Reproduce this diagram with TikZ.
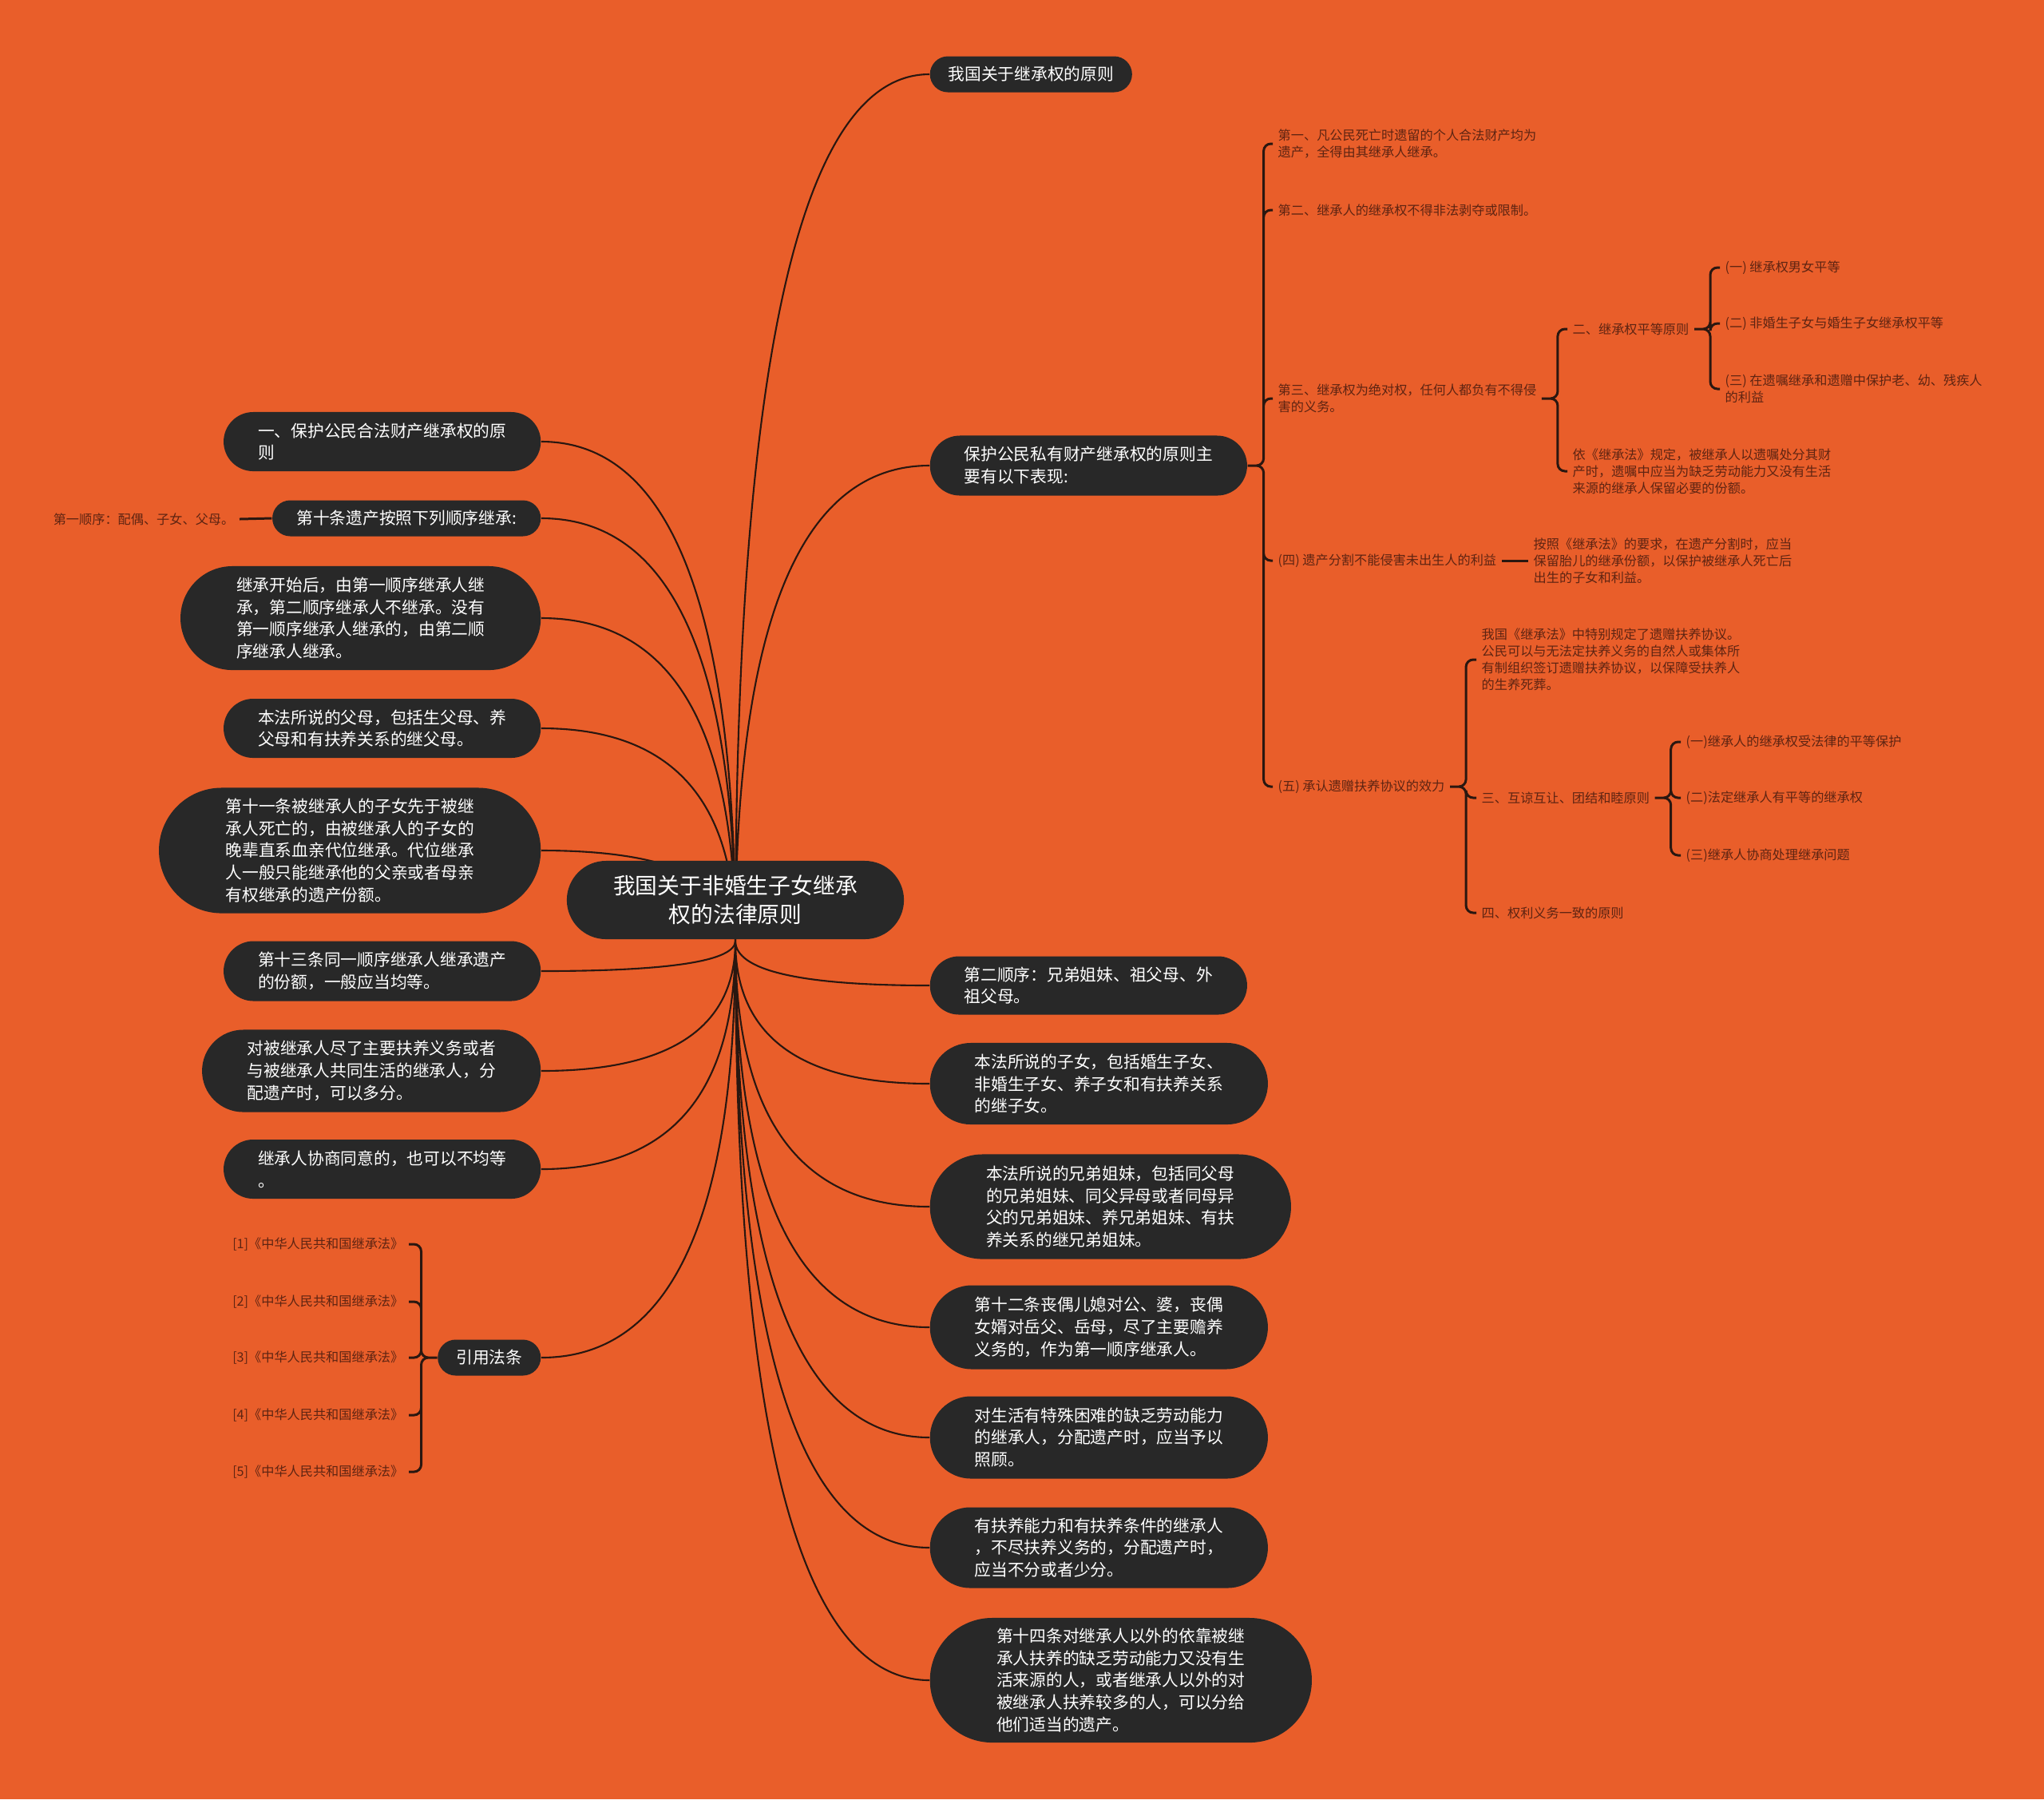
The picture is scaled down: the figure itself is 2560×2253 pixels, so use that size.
\documentclass[tikz,border=0pt]{standalone}
\usepackage{fontspec}
\setmainfont{Noto Sans CJK SC}
\usetikzlibrary{calc,backgrounds,shapes.misc}

\definecolor{bgorange}{HTML}{E95E2A}
\definecolor{boxfill}{HTML}{282828}
\definecolor{leaftext}{HTML}{5E2412}
\definecolor{linecol}{HTML}{2A1710}

\tikzset{
  hubbox/.style={rounded rectangle, fill=boxfill, text=white, align=center,
    inner sep=0pt, minimum width=4.22cm, minimum height=0.98cm,
    font=\fontsize{7.9pt}{10.2pt}\selectfont},
  topic/.style={rounded rectangle, fill=boxfill, text=white, align=left,
    inner sep=0pt, font=\fontsize{5.9pt}{7.9pt}\selectfont},
  onebox/.style={topic, minimum height=0.45cm},
  leaf/.style={text=leaftext, align=left, inner xsep=0.06cm, inner ysep=0pt,
    font=\fontsize{4.6pt}{6pt}\selectfont},
  limb/.style={draw=linecol, line width=0.6pt,
    to path={.. controls ($(\tikztostart)!0.667!(\tikztostart|-\tikztotarget)$)
      and ($(\tikztotarget)!0.667!(\tikztostart|-\tikztotarget)$) .. (\tikztotarget)}},
  twig/.style={draw=linecol, line width=0.85pt, rounded corners=0.09cm,
    to path={-- ++(20,0) |- (\tikztotarget)}},
  ltwig/.style={draw=linecol, line width=0.85pt, rounded corners=0.09cm,
    to path={-- ++(-20,0) |- (\tikztotarget)}},
  stem/.style={draw=linecol, line width=0.85pt}
}

\begin{document}
\begin{tikzpicture}[x=0.01cm, y=-0.01cm]
\useasboundingbox (0,0) rectangle (2560,2253);

% Central topic
\node [hubbox] (root) at (921,1127) {我国关于非婚生子女继承\\权的法律原则};
\coordinate (hub) at (921,1178);

% Right-hand topics
\node [onebox, anchor=west, minimum width=2.53cm] (r1) at (1164,93) {我国关于继承权的原则};
\node [topic, anchor=west, minimum width=3.97cm, minimum height=0.75cm] (r2) at (1164,583)
  {保护公民私有财产继承权的原则主\\要有以下表现:};
\node [topic, anchor=west, minimum width=3.97cm, minimum height=0.73cm] (r3) at (1164,1234)
  {第二顺序：兄弟姐妹、祖父母、外\\祖父母。};
\node [topic, anchor=west, minimum width=4.23cm, minimum height=1.02cm] (r4) at (1164,1357)
  {本法所说的子女，包括婚生子女、\\非婚生子女、养子女和有扶养关系\\的继子女。};
\node [topic, anchor=west, minimum width=4.52cm, minimum height=1.31cm] (r5) at (1164,1511)
  {本法所说的兄弟姐妹，包括同父母\\的兄弟姐妹、同父异母或者同母异\\父的兄弟姐妹、养兄弟姐妹、有扶\\养关系的继兄弟姐妹。};
\node [topic, anchor=west, minimum width=4.23cm, minimum height=1.05cm] (r6) at (1164,1662)
  {第十二条丧偶儿媳对公、婆，丧偶\\女婿对岳父、岳母，尽了主要赡养\\义务的，作为第一顺序继承人。};
\node [topic, anchor=west, minimum width=4.23cm, minimum height=1.03cm] (r7) at (1164,1800)
  {对生活有特殊困难的缺乏劳动能力\\的继承人，分配遗产时，应当予以\\照顾。};
\node [topic, anchor=west, minimum width=4.23cm, minimum height=1.01cm] (r8) at (1164,1938)
  {有扶养能力和有扶养条件的继承人\\，不尽扶养义务的，分配遗产时，\\应当不分或者少分。};
\node [topic, anchor=west, minimum width=4.78cm, minimum height=1.56cm] (r9) at (1164,2104)
  {第十四条对继承人以外的依靠被继\\承人扶养的缺乏劳动能力又没有生\\活来源的人，或者继承人以外的对\\被继承人扶养较多的人，可以分给\\他们适当的遗产。};

% Left-hand topics
\node [topic, anchor=east, minimum width=3.97cm, minimum height=0.74cm] (l1) at (678,553)
  {一、保护公民合法财产继承权的原\\则};
\node [onebox, anchor=east, minimum width=3.36cm] (l2) at (678,649) {第十条遗产按照下列顺序继承:};
\node [topic, anchor=east, minimum width=4.51cm, minimum height=1.30cm] (l3) at (678,774)
  {继承开始后，由第一顺序继承人继\\承，第二顺序继承人不继承。没有\\第一顺序继承人继承的，由第二顺\\序继承人继承。};
\node [topic, anchor=east, minimum width=3.97cm, minimum height=0.74cm] (l4) at (678,912)
  {本法所说的父母，包括生父母、养\\父母和有扶养关系的继父母。};
\node [topic, anchor=east, minimum width=4.78cm, minimum height=1.57cm] (l5) at (678,1065)
  {第十一条被继承人的子女先于被继\\承人死亡的，由被继承人的子女的\\晚辈直系血亲代位继承。代位继承\\人一般只能继承他的父亲或者母亲\\有权继承的遗产份额。};
\node [topic, anchor=east, minimum width=3.97cm, minimum height=0.75cm] (l6) at (678,1216)
  {第十三条同一顺序继承人继承遗产\\的份额，一般应当均等。};
\node [topic, anchor=east, minimum width=4.24cm, minimum height=1.03cm] (l7) at (678,1341)
  {对被继承人尽了主要扶养义务或者\\与被继承人共同生活的继承人，分\\配遗产时，可以多分。};
\node [topic, anchor=east, minimum width=3.97cm, minimum height=0.74cm] (l8) at (678,1464)
  {继承人协商同意的，也可以不均等\\。};
\node [onebox, anchor=east, minimum width=1.29cm] (l9) at (678,1700) {引用法条};

% Leaves of the second right topic
\node [leaf, anchor=west] (a1) at (1594,180) {第一、凡公民死亡时遗留的个人合法财产均为\\遗产，全得由其继承人继承。};
\node [leaf, anchor=west] (a2) at (1594,263) {第二、继承人的继承权不得非法剥夺或限制。};
\node [leaf, anchor=west] (a3) at (1594,499) {第三、继承权为绝对权，任何人都负有不得侵\\害的义务。};
\node [leaf, anchor=west] (a4) at (1594,702) {(四) 遗产分割不能侵害未出生人的利益};
\node [leaf, anchor=west] (a5) at (1594,985) {(五) 承认遗赠扶养协议的效力};

\node [leaf, anchor=west] (b1) at (1963,412) {二、继承权平等原则};
\node [leaf, anchor=west] (b2) at (1963,590) {依《继承法》规定，被继承人以遗嘱处分其财\\产时，遗嘱中应当为缺乏劳动能力又没有生活\\来源的继承人保留必要的份额。};

\node [leaf, anchor=west] (c1) at (2154,335) {(一) 继承权男女平等};
\node [leaf, anchor=west] (c2) at (2154,405) {(二) 非婚生子女与婚生子女继承权平等};
\node [leaf, anchor=west] (c3) at (2154,487) {(三) 在遗嘱继承和遗赠中保护老、幼、残疾人\\的利益};

\node [leaf, anchor=west] (d1) at (1914,702) {按照《继承法》的要求，在遗产分割时，应当\\保留胎儿的继承份额，以保护被继承人死亡后\\出生的子女和利益。};

\node [leaf, anchor=west] (e1) at (1849,826) {我国《继承法》中特别规定了遗赠扶养协议。\\公民可以与无法定扶养义务的自然人或集体所\\有制组织签订遗赠扶养协议，以保障受扶养人\\的生养死葬。};
\node [leaf, anchor=west] (e2) at (1849,999) {三、互谅互让、团结和睦原则};
\node [leaf, anchor=west] (e3) at (1849,1143) {四、权利义务一致的原则};

\node [leaf, anchor=west] (f1) at (2105,929) {(一)继承人的继承权受法律的平等保护};
\node [leaf, anchor=west] (f2) at (2105,999) {(二)法定继承人有平等的继承权};
\node [leaf, anchor=west] (f3) at (2105,1071) {(三)继承人协商处理继承问题};

% Leaves on the left
\node [leaf, anchor=east] (first) at (300,650) {第一顺序：配偶、子女、父母。};
\node [leaf, anchor=east] (cite1) at (512,1558) {[1]《中华人民共和国继承法》};
\node [leaf, anchor=east] (cite2) at (512,1630) {[2]《中华人民共和国继承法》};
\node [leaf, anchor=east] (cite3) at (512,1700) {[3]《中华人民共和国继承法》};
\node [leaf, anchor=east] (cite4) at (512,1772) {[4]《中华人民共和国继承法》};
\node [leaf, anchor=east] (cite5) at (512,1843) {[5]《中华人民共和国继承法》};

\begin{scope}[on background layer]
\fill [bgorange] (0,0) rectangle (2560,2253);

% Connectors from the central topic
\draw [limb] (hub) to (r1.west) (hub) to (r2.west) (hub) to (r3.west)
  (hub) to (r4.west) (hub) to (r5.west) (hub) to (r6.west)
  (hub) to (r7.west) (hub) to (r8.west) (hub) to (r9.west);
\draw [limb] (hub) to (l1.east) (hub) to (l2.east) (hub) to (l3.east)
  (hub) to (l4.east) (hub) to (l5.east) (hub) to (l6.east)
  (hub) to (l7.east) (hub) to (l8.east) (hub) to (l9.east);

% Brackets
\draw [twig] (r2.east) to (a1.west) (r2.east) to (a2.west) (r2.east) to (a3.west)
  (r2.east) to (a4.west) (r2.east) to (a5.west);
\draw [twig] (a3.east) to (b1.west) (a3.east) to (b2.west);
\draw [twig] (b1.east) to (c1.west) (b1.east) to (c2.west) (b1.east) to (c3.west);
\draw [twig] (a5.east) to (e1.west) (a5.east) to (e2.west) (a5.east) to (e3.west);
\draw [twig] (e2.east) to (f1.west) (e2.east) to (f2.west) (e2.east) to (f3.west);
\draw [ltwig] (l9.west) to (cite1.east) (l9.west) to (cite2.east) (l9.west) to (cite3.east)
  (l9.west) to (cite4.east) (l9.west) to (cite5.east);
\draw [stem] (a4.east) -- (d1.west);
\draw [stem] (l2.west) -- (first.east);
\end{scope}
\end{tikzpicture}
\end{document}
